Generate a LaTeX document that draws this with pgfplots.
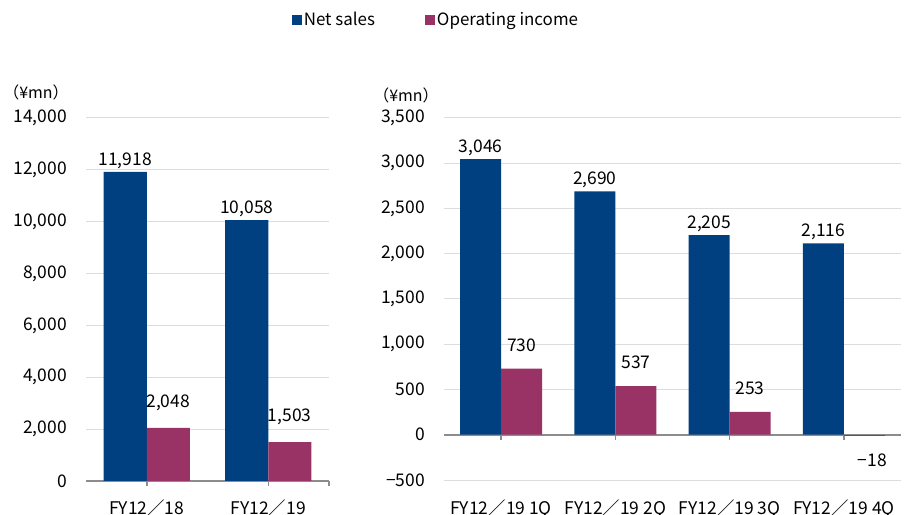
\documentclass[border=0pt]{standalone}
\usepackage{pgfplots}
\pgfplotsset{compat=1.18}
\usepackage{fontspec}
\setmainfont{Noto Sans CJK JP}
\definecolor{netblue}{HTML}{003F80}
\definecolor{opmag}{HTML}{993366}
\definecolor{axgray}{HTML}{8C8C8C}
\definecolor{gridgray}{HTML}{DDDDDD}
\pgfplotsset{
  common/.style={
    scale only axis,
    anchor=south west,
    ybar=0pt,
    font=\fontsize{17.5}{20}\selectfont,
    scaled y ticks=false,
    axis x line*=bottom,
    axis y line*=left,
    x axis line style={draw=axgray, line width=2bp, -},
    y axis line style={draw=none},
    major y tick style={draw=none},
    major x tick style={draw=axgray, line width=1.5bp},
    tick align=outside,
    major tick length=5bp,
    ymajorgrids,
    grid style={gridgray, line width=1bp},
    yticklabel style={anchor=east, inner sep=0pt, xshift=-14bp},
    xtick=data,
    point meta=explicit symbolic,
    nodes near coords,
    every node near coord/.append style={font=\fontsize{17.5}{20}\selectfont, inner sep=3bp},
  },
  blueb/.style={fill=netblue, draw=none, bar shift=-#1},
  magb/.style={fill=opmag, draw=none, bar shift=#1,
    every node near coord/.append style={yshift=14bp}},
}
\begin{document}
\begin{tikzpicture}
\begin{axis}[common,
  at={(86bp,34bp)}, width=243bp, height=363bp,
  xmin=-0.5, xmax=1.5, ymin=0, ymax=14000,
  ytick={0,2000,4000,6000,8000,10000,12000,14000},
  yticklabels={0,{2,000},{4,000},{6,000},{8,000},{10,000},{12,000},{14,000}},
  xticklabels={FY12／18,FY12／19},
  xticklabel style={yshift=-10bp},
  extra x ticks={1.5}, extra x tick labels={},
  bar width=43bp,
  legend style={at={(1.44,1.27)}, anchor=center, draw=none, fill=none,
    legend columns=2, font=\fontsize{17}{20}\selectfont,
    /tikz/every even column/.append style={column sep=48bp}},
  legend image code/.code={\fill[#1] (0bp,-5bp) rectangle (10bp,5bp);},
]
\addplot[blueb=21.5bp] table[meta=label] {
x y label
0 11918 11,918
1 10058 10,058
};
\addplot[magb=21.5bp] table[meta=label] {
x y label
0 2048 2,048
1 1503 1,503
};
\legend{Net sales, Operating income}
\end{axis}
\begin{axis}[common,
  at={(444bp,35bp)}, width=457bp, height=362bp,
  xmin=-0.5, xmax=3.5, ymin=-500, ymax=3500,
  axis x line*=middle,
  ytick={-500,0,500,1000,1500,2000,2500,3000,3500},
  yticklabels={−500,0,500,{1,000},{1,500},{2,000},{2,500},{3,000},{3,500}},
  xticklabels={FY12／19 1Q,FY12／19 2Q,FY12／19 3Q,FY12／19 4Q},
  xticklabel style={yshift=-56bp},
  bar width=41bp,
]
\addplot[blueb=20.5bp] table[meta=label] {
x y label
0 3046 3,046
1 2690 2,690
2 2205 2,205
3 2116 2,116
};
\addplot[magb=20.5bp] table[meta=label] {
x y label
0 730 730
1 537 537
2 253 253
};
\addplot[fill=opmag, draw=none, bar shift=20.5bp,
  every node near coord/.append style={anchor=north, yshift=-14bp, xshift=8bp}]
  table[meta=label] {
x y label
3 -18 −18
};
\end{axis}
\node[font=\fontsize{16}{19}\selectfont] at (36bp,423bp) {（¥mn）};
\node[font=\fontsize{16}{19}\selectfont] at (406bp,420bp) {（¥mn）};
\pgfresetboundingbox
\useasboundingbox (0,0) rectangle (905bp,515bp);
\end{tikzpicture}
\end{document}
